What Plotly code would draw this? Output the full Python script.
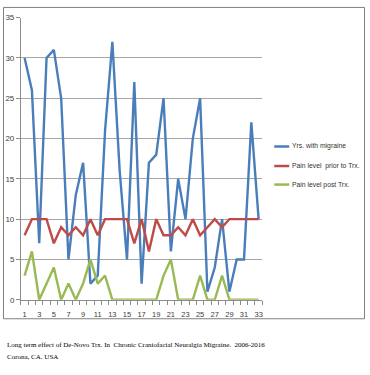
import plotly.graph_objects as go

cases = list(range(1, 34))
yrs_migraine = [30, 26, 7, 30, 31, 25, 5, 13, 17, 2, 3, 21, 32, 16, 5, 27, 2, 17, 18, 25,
                6, 15, 10, 20, 25, 1, 4, 10, 1, 5, 5, 22, 10]
pain_prior = [8, 10, 10, 10, 7, 9, 8, 9, 8, 10, 8, 10, 10, 10, 10, 7, 10, 6, 10, 8,
              8, 9, 8, 10, 8, 9, 10, 9, 10, 10, 10, 10, 10]
pain_post = [3, 6, 0, 2, 4, 0, 2, 0, 2, 5, 2, 3, 0, 0, 0, 0, 0, 0, 0, 3,
             5, 0, 0, 0, 3, 0, 0, 3, 0, 0, 0, 0, 0]
series_names = ["Yrs. with migraine", "Pain level  prior to Trx.", "Pain level post Trx."]
series_colors = ["#4A7EBB", "#BE4B48", "#98B954"]
x_ticks = list(range(1, 34, 2))
x_bounds = [c - 0.5 for c in cases] + [cases[-1] + 0.5]
y_ticks = list(range(0, 36, 5))
caption = ["Long term effect of De-Novo Trx. In  Chronic Craniofacial Neuralgia Migraine.  2006-2016",
           "Corona, CA. USA"]

W, H = 370, 375
fig = go.Figure()
for vals, name, col in zip([yrs_migraine, pain_prior, pain_post], series_names, series_colors):
    fig.add_trace(go.Scatter(x=cases, y=vals, mode="lines", name=name,
                             line=dict(color=col, width=2.4), showlegend=False))

x0, x1 = 21, 263
y0, y1 = 303, 14
sans = "Liberation Sans, Arial, sans-serif"
fig.update_layout(
    width=W, height=H, margin=dict(l=0, r=0, t=0, b=0),
    paper_bgcolor="white", plot_bgcolor="white",
    xaxis=dict(domain=[x0 / W, x1 / W], range=[0.5, 33.5], tickvals=x_ticks,
               ticks="", showgrid=False, showline=True, linecolor="#8C8C8C", linewidth=1,
               ticklabelstandoff=7,
               tickfont=dict(family=sans, size=7.5, color="#404040"),
               minor=dict(ticks="outside", tickvals=x_bounds, ticklen=4, tickcolor="#8C8C8C", showgrid=False),
               zeroline=False, fixedrange=True),
    yaxis=dict(domain=[(H - y0) / H, (H - y1) / H], range=[0, 35], tickvals=y_ticks,
               ticks="outside", ticklen=4, tickcolor="#8C8C8C",
               showgrid=True, gridcolor="#A6A6A6", gridwidth=1,
               showline=True, linecolor="#8C8C8C", linewidth=1, zeroline=False,
               tickfont=dict(family=sans, size=8, color="#404040"), fixedrange=True),
)

# chart border (four edges)
bx0, bx1, by0, by1 = 3.5, 365.5, 3.5, 322.5
for ax0, ay0, ax1, ay1 in [(bx0, by0, bx1, by0), (bx0, by1, bx1, by1),
                           (bx0, by0, bx0, by1), (bx1, by0, bx1, by1)]:
    fig.add_shape(type="line", xref="paper", yref="paper",
                  x0=ax0 / W, x1=ax1 / W, y0=(H - ay0) / H, y1=(H - ay1) / H,
                  line=dict(color="#7F7F7F", width=1))

# legend drawn manually
leg_y = [146, 166, 185]
for name, col, ly in zip(series_names, series_colors, leg_y):
    fig.add_shape(type="line", xref="paper", yref="paper",
                  x0=275 / W, x1=290 / W, y0=(H - ly) / H, y1=(H - ly) / H,
                  line=dict(color=col, width=2.5))
    fig.add_annotation(xref="paper", yref="paper", x=291 / W, y=(H - ly) / H,
                       text=name, showarrow=False, xanchor="left", yanchor="middle",
                       font=dict(family=sans, size=6.8, color="#333333"))

for txt, cy in zip(caption, [349, 362]):
    fig.add_annotation(xref="paper", yref="paper", x=5 / W, y=(H - cy) / H,
                       text=txt, showarrow=False, xanchor="left", yanchor="middle",
                       font=dict(family="Liberation Serif, Times New Roman, serif", size=7, color="#000000"))

fig.write_html("out.html", config={"displayModeBar": False},
               post_script="document.body.style.margin='0';document.body.style.overflow='hidden';")
